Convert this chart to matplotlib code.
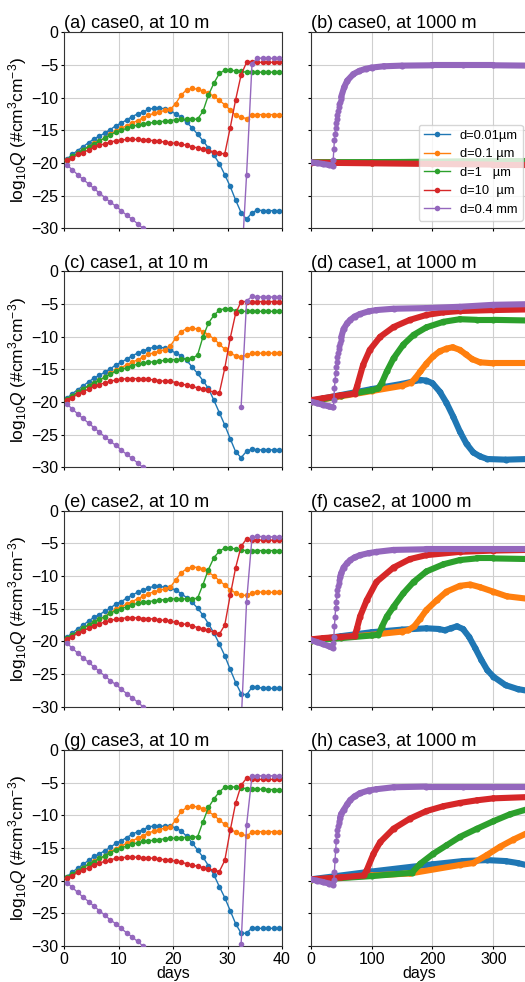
import numpy as np
import matplotlib
matplotlib.use('Agg')
import matplotlib.pyplot as plt
from matplotlib.collections import LineCollection
from matplotlib.lines import Line2D

plt.rcParams['font.family'] = ['Liberation Sans', 'DejaVu Sans']
plt.rcParams['mathtext.fontset'] = 'custom'
plt.rcParams['mathtext.rm'] = 'Liberation Sans'
plt.rcParams['mathtext.it'] = 'Liberation Sans:italic'

nan = np.nan

# ---------------- data ----------------
size_labels = ['d=0.01\u00b5m', 'd=0.1 \u00b5m', 'd=1   \u00b5m', 'd=10  \u00b5m', 'd=0.4 mm']
colors = ['#1f77b4', '#ff7f0e', '#2ca02c', '#d62728', '#9467bd']
case_names = ['case0', 'case1', 'case2', 'case3']
near_letters = ['(a)', '(c)', '(e)', '(g)']
far_letters = ['(b)', '(d)', '(f)', '(h)']

# 10 m: daily values at day 0.5 ... 39.5
days_near = np.arange(0.5, 40.0, 1.0)

# first 19 days (shared by all cases)
early_blue = [-19.4, -18.7, -18.1, -17.5, -16.9, -16.3, -15.9, -15.4, -14.9, -14.3,
              -13.9, -13.4, -12.9, -12.5, -12.2, -11.8, -11.6, -11.6, -11.7]
early_orange = [-19.6, -19.1, -18.5, -18.0, -17.5, -17.0, -16.6, -16.2, -15.6, -15.1,
                -14.7, -14.3, -13.9, -13.5, -13.1, -12.7, -12.4, -12.2, -11.95]
early_green = [-19.5, -19.0, -18.5, -18.0, -17.5, -17.1, -16.6, -16.2, -15.7, -15.3,
               -15.0, -14.7, -14.4, -14.2, -14.0, -13.9, -13.8, -13.7, -13.6]
early_red = [-19.6, -19.3, -18.7, -18.4, -18.0, -17.6, -17.3, -17.05, -16.8, -16.6,
             -16.5, -16.4, -16.4, -16.4, -16.5, -16.5, -16.6, -16.7, -16.8]
early_purple = [-20.3, -21.0, -21.8, -22.5, -23.2, -23.9, -24.6, -25.3, -26.0, -26.6,
                -27.3, -28.0, -28.6, -29.3, -30.0, nan, nan, nan, nan]

# days 19.5 ... 39.5 for each case
late0_blue = [-12.0, -12.5, -13.0, -13.8, -14.6, -15.6, -16.6, -17.7, -18.8, -20.1, -21.8,
              -23.6, -25.7, -27.6, -28.6, -27.6, -27.2, -27.3, -27.3, -27.3, -27.3]
late0_orange = [-11.8, -10.9, -9.6, -8.8, -8.6, -8.7, -9.0, -9.3, -9.8, -10.4, -11.1,
                -11.9, -12.7, -13.0, -13.2, -12.7, -12.6, -12.6, -12.6, -12.6, -12.6]
late0_green = [-13.5, -13.4, -13.3, -13.3, -13.3, -13.3, -12.1, -9.6, -7.8, -6.3, -5.8,
               -5.8, -5.9, -6.0, -6.1, -6.1, -6.1, -6.1, -6.1, -6.1, -6.1]
late0_red = [-16.9, -17.0, -17.1, -17.3, -17.5, -17.7, -17.9, -18.1, -18.3, -18.5, -18.6,
             -14.6, -10.3, -6.5, -4.6, -4.6, -4.6, -4.6, -4.6, -4.6, -4.6]
late0_purple = [nan] * 13 + [-36.6, -21.8, -4.8, -3.9, -4.0, -4.0, -4.0, -4.0]

late1_blue = [-12.0, -12.5, -12.9, -13.6, -14.6, -15.6, -16.7, -17.9, -19.7, -21.6, -23.5,
              -25.6, -27.6, -28.5, -27.5, -27.2, -27.3, -27.3, -27.3, -27.3, -27.3]
late1_orange = [-11.4, -10.2, -9.2, -8.75, -8.6, -8.85, -9.2, -9.7, -10.3, -11.1, -11.9,
                -12.5, -12.9, -13.1, -12.8, -12.5, -12.5, -12.5, -12.5, -12.5, -12.5]
late1_green = [-13.5, -13.5, -13.4, -13.4, -13.3, -12.8, -10.0, -7.9, -6.7, -5.9, -5.7,
               -5.7, -6.0, -6.1, -6.1, -6.1, -6.1, -6.1, -6.1, -6.1, -6.1]
late1_red = [-16.8, -17.0, -17.2, -17.4, -17.6, -17.8, -18.0, -18.2, -18.5, -18.6, -14.8,
             -10.2, -6.4, -4.6, -4.6, -4.6, -4.6, -4.6, -4.6, -4.6, -4.6]
late1_purple = [nan] * 13 + [-20.7, -4.5, -3.8, -3.9, -3.9, -3.9, -3.9, -3.9]

late2_blue = [-11.9, -12.1, -12.7, -13.3, -14.0, -14.9, -16.0, -17.3, -18.7, -20.4, -22.2,
              -24.3, -26.3, -28.0, -28.2, -27.0, -27.0, -27.2, -27.2, -27.2, -27.2]
late2_orange = [-11.7, -10.6, -9.5, -8.9, -8.6, -8.7, -8.9, -9.4, -10.0, -10.7, -11.4,
                -12.1, -12.6, -12.95, -12.95, -12.6, -12.4, -12.5, -12.5, -12.5, -12.5]
late2_green = [-13.5, -13.5, -13.5, -13.5, -13.5, -13.4, -11.3, -9.0, -7.2, -6.2, -5.7,
               -5.7, -5.9, -6.0, -6.1, -6.1, -6.1, -6.1, -6.1, -6.1, -6.1]
late2_red = [-16.9, -17.1, -17.3, -17.4, -17.6, -17.9, -18.1, -18.3, -18.6, -18.9, -17.5,
             -12.95, -8.7, -5.45, -4.3, -4.5, -4.5, -4.5, -4.5, -4.5, -4.5]
late2_purple = [nan] * 13 + [-32.6, -13.9, -4.1, -3.9, -4.0, -4.0, -4.0, -4.0]

late3_blue = [-11.7, -11.9, -12.4, -13.2, -14.2, -15.3, -16.4, -17.7, -19.1, -20.9, -22.6,
              -24.6, -26.6, -28.05, -28.05, -27.2, -27.3, -27.3, -27.3, -27.3, -27.3]
late3_orange = [-11.8, -10.7, -9.4, -8.8, -8.6, -8.7, -9.0, -9.4, -10.0, -10.7, -11.4,
                -12.1, -12.6, -12.9, -13.1, -12.6, -12.5, -12.5, -12.5, -12.5, -12.5]
late3_green = [-13.5, -13.5, -13.4, -13.4, -13.3, -13.3, -11.0, -8.8, -7.5, -6.4, -5.7,
               -5.6, -5.7, -5.8, -5.9, -5.95, -6.0, -6.0, -6.05, -6.05, -6.1]
late3_red = [-16.9, -17.0, -17.2, -17.4, -17.6, -17.8, -18.0, -18.2, -18.4, -18.6, -16.9,
             -12.3, -8.1, -5.4, -4.3, -4.5, -4.5, -4.5, -4.5, -4.5, -4.5]
late3_purple = [nan] * 13 + [-29.7, -11.5, -3.95, -3.95, -3.95, -3.95, -3.95, -3.95]

# 1000 m: (day, log10Q) readings
far0_blue_t = [0, 100, 200, 300, 358]
far0_blue_q = [-19.9, -19.95, -20.0, -20.0, -20.0]
far0_orange_t = [0, 100, 200, 300, 358]
far0_orange_q = [-19.9, -19.95, -20.0, -20.0, -20.0]
far0_green_t = [0, 150, 250, 358]
far0_green_q = [-19.9, -19.85, -19.75, -19.7]
far0_red_t = [0, 100, 200, 300, 358]
far0_red_q = [-19.95, -20.05, -20.15, -20.25, -20.25]
far0_purple_t = [0, 10, 20, 30, 36, 37, 38, 39, 40, 41, 42, 43, 44, 45, 46, 47, 48, 49, 50,
                 55, 60, 70, 80, 90, 100, 120, 150, 200, 250, 300, 358]
far0_purple_q = [-19.9, -20.0, -20.15, -20.3, -20.4, -19.5, -17.8, -16.5, -15.5, -14.6, -13.9,
                 -13.2, -12.6, -12.0, -11.5, -11.0, -10.6, -10.2, -9.9,
                 -8.4, -7.4, -6.4, -5.9, -5.6, -5.4, -5.2, -5.1, -5.05, -5.05, -5.05, -5.1]

far1_blue_t = [0, 50, 100, 150, 180, 190, 200, 212, 223, 234, 245, 256, 267, 278, 290, 320, 358]
far1_blue_q = [-19.8, -18.9, -18.0, -17.2, -16.6, -16.7, -17.1, -18.4, -20.1, -22.2, -24.5,
               -26.4, -27.7, -28.3, -28.7, -28.8, -28.7]
far1_orange_t = [0, 50, 100, 150, 165, 172, 180, 190, 201, 212, 223, 233, 245, 255, 265, 278, 300, 358]
far1_orange_q = [-19.9, -19.1, -18.3, -17.5, -17.0, -16.3, -15.3, -14.1, -13.0, -12.2, -11.8,
                 -11.6, -12.0, -12.7, -13.4, -13.9, -14.05, -14.05]
far1_green_t = [0, 50, 100, 111, 117, 125, 136, 152, 169, 190, 218, 245, 273, 300, 358]
far1_green_q = [-19.9, -19.0, -18.2, -17.9, -17.0, -15.3, -13.3, -11.2, -9.7, -8.55, -7.7,
                -7.3, -7.4, -7.4, -7.5]
far1_red_t = [0, 20, 50, 72, 76, 86, 97, 114, 136, 163, 190, 218, 245, 300, 358]
far1_red_q = [-19.7, -19.4, -18.95, -18.7, -17.6, -14.3, -12.0, -10.0, -8.5, -7.4, -6.65,
              -6.25, -6.05, -5.9, -5.8]
far1_purple_t = [0, 10, 20, 30, 37, 38, 39, 40, 41, 42, 43, 44, 45, 46, 47, 48, 49, 50,
                 54, 60, 65, 72, 81, 95, 108, 136, 190, 245, 300, 358]
far1_purple_q = [-19.9, -20.15, -20.4, -20.65, -20.8, -19.6, -17.9, -16.6, -15.5, -14.6, -13.8,
                 -13.1, -12.5, -11.9, -11.4, -10.9, -10.5, -10.1,
                 -8.8, -7.9, -7.4, -6.9, -6.5, -6.1, -5.9, -5.7, -5.6, -5.4, -5.1, -5.0]

far2_blue_t = [0, 50, 100, 150, 190, 210, 220, 230, 240, 250, 260, 270, 280, 290, 300, 320, 340, 358]
far2_blue_q = [-19.9, -19.2, -18.6, -18.2, -18.0, -18.1, -18.3, -18.0, -17.7, -18.1, -19.3,
               -21.0, -22.8, -24.4, -25.4, -26.7, -27.3, -27.6]
far2_orange_t = [0, 50, 100, 150, 160, 170, 180, 190, 207, 223, 245, 262, 278, 300, 322, 358]
far2_orange_q = [-19.9, -19.4, -19.0, -18.5, -18.3, -17.7, -16.5, -15.2, -13.7, -12.4, -11.5,
                 -11.3, -11.7, -12.4, -13.1, -13.5]
far2_green_t = [0, 50, 100, 111, 117, 125, 136, 152, 169, 190, 218, 245, 273, 300, 358]
far2_green_q = [-19.9, -19.5, -19.1, -19.0, -17.75, -16.2, -14.7, -12.65, -10.9, -9.3, -8.2,
                -7.55, -7.3, -7.3, -7.4]
far2_red_t = [0, 20, 50, 72, 76, 81, 92, 108, 136, 163, 190, 245, 300, 358]
far2_red_q = [-19.7, -19.5, -19.3, -19.2, -18.0, -16.2, -13.7, -10.9, -8.7, -7.4, -6.8,
              -6.3, -6.1, -6.0]
far2_purple_t = [0, 10, 20, 30, 36, 37, 38, 39, 40, 41, 42, 43, 44, 45, 46, 47, 48, 50,
                 54, 60, 65, 72, 81, 95, 108, 136, 190, 250, 300, 358]
far2_purple_q = [-19.8, -20.1, -20.4, -20.75, -21.0, -20.3, -19.3, -17.7, -16.2, -14.9, -13.9,
                 -12.9, -12.1, -11.5, -11.0, -10.6, -10.2, -9.6,
                 -8.7, -8.0, -7.55, -7.15, -6.8, -6.5, -6.3, -6.0, -5.9, -5.9, -5.9, -5.9]

far3_blue_t = [0, 100, 200, 250, 290, 320, 340, 358]
far3_blue_q = [-19.8, -18.6, -17.5, -17.0, -16.85, -17.0, -17.3, -17.7]
far3_orange_t = [0, 100, 163, 245, 267, 289, 311, 333, 358]
far3_orange_q = [-19.9, -19.2, -18.9, -17.6, -17.3, -16.1, -14.8, -13.7, -12.6]
far3_green_t = [0, 100, 166, 180, 201, 223, 245, 273, 300, 327, 358]
far3_green_q = [-19.9, -19.3, -18.8, -17.4, -15.9, -14.6, -13.3, -12.05, -10.9, -9.85, -9.0]
far3_red_t = [0, 50, 87, 92, 103, 114, 136, 163, 190, 218, 245, 273, 300, 358]
far3_red_q = [-19.8, -19.5, -19.2, -18.4, -15.9, -14.1, -12.05, -10.5, -9.35, -8.6, -8.1,
              -7.7, -7.4, -7.2]
far3_purple_t = [0, 10, 20, 30, 37, 38, 39, 40, 41, 42, 43, 44, 45, 46, 47, 48, 50,
                 54, 60, 65, 72, 81, 95, 108, 136, 190, 250, 300, 358]
far3_purple_q = [-19.8, -20.0, -20.2, -20.45, -20.6, -19.9, -18.6, -16.8, -15.3, -14.0, -13.0,
                 -12.3, -11.7, -11.2, -10.8, -10.4, -9.8,
                 -9.2, -8.3, -7.65, -7.1, -6.6, -6.2, -6.0, -5.7, -5.6, -5.6, -5.6, -5.6]

# ---------------- assemble ----------------
early = [early_blue, early_orange, early_green, early_red, early_purple]
late = [
    [late0_blue, late0_orange, late0_green, late0_red, late0_purple],
    [late1_blue, late1_orange, late1_green, late1_red, late1_purple],
    [late2_blue, late2_orange, late2_green, late2_red, late2_purple],
    [late3_blue, late3_orange, late3_green, late3_red, late3_purple],
]
near = [[np.array(early[k] + late[c][k], float) for k in range(5)] for c in range(4)]
far = [
    [(far0_blue_t, far0_blue_q), (far0_orange_t, far0_orange_q), (far0_green_t, far0_green_q),
     (far0_red_t, far0_red_q), (far0_purple_t, far0_purple_q)],
    [(far1_blue_t, far1_blue_q), (far1_orange_t, far1_orange_q), (far1_green_t, far1_green_q),
     (far1_red_t, far1_red_q), (far1_purple_t, far1_purple_q)],
    [(far2_blue_t, far2_blue_q), (far2_orange_t, far2_orange_q), (far2_green_t, far2_green_q),
     (far2_red_t, far2_red_q), (far2_purple_t, far2_purple_q)],
    [(far3_blue_t, far3_blue_q), (far3_orange_t, far3_orange_q), (far3_green_t, far3_green_q),
     (far3_red_t, far3_red_q), (far3_purple_t, far3_purple_q)],
]

# ---------------- figure ----------------
W, H = 525, 982
fig = plt.figure(figsize=(W / 100, H / 100), dpi=100)

ax_w = 218 / W
ax_h = 196 / H
tops = [32.3, 271.5, 510.7, 750.0]
left_x = 64 / W
right_x = 310.7 / W

MS = 4.0
TICK_FS = 11.5
TITLE_FS = 13


def style_axes(ax, xlim, xticks, show_xlabels, show_ylabels):
    ax.set_xlim(*xlim)
    ax.set_ylim(-30, 0)
    ax.set_xticks(xticks)
    ax.set_yticks([0, -5, -10, -15, -20, -25, -30])
    ax.grid(True, color='#cfcfcf', lw=0.8)
    ax.set_axisbelow(True)
    ax.tick_params(direction='out', length=2.5, width=0.8, labelsize=TICK_FS, pad=1.5,
                   labelbottom=show_xlabels, labelleft=show_ylabels)
    for s in ax.spines.values():
        s.set_linewidth(0.8)
        s.set_color('#333333')


def band(ax, t, q, color, z):
    t = np.asarray(t, float)
    q = np.asarray(q, float)
    pts = np.column_stack([t, q])
    segs = np.stack([pts[:-1], pts[1:]], axis=1)
    widths = np.where(np.diff(t) > 1.5, 4.4, 1.0)
    lc = LineCollection(segs, linewidths=widths, colors=color, capstyle='round', zorder=z)
    ax.add_collection(lc)
    ax.plot(t, q, 'o', ms=4.4, mew=0, color=color, zorder=z)


for r in range(4):
    bottom = 1 - (tops[r] + 196) / H
    axl = fig.add_axes([left_x, bottom, ax_w, ax_h])
    axr = fig.add_axes([right_x, bottom, ax_w, ax_h])
    last = (r == 3)
    style_axes(axl, (0, 40), [0, 10, 20, 30, 40], last, True)
    style_axes(axr, (0, 358), [0, 100, 200, 300], last, False)

    for k in range(5):
        axl.plot(days_near, near[r][k], '-o', color=colors[k], lw=1.0, ms=MS, mew=0,
                 zorder=2 + k, clip_on=True)
        t, q = far[r][k]
        band(axr, t, q, colors[k], 2 + k)

    axl.set_title(f'{near_letters[r]} {case_names[r]}, at 10 m', loc='left',
                  fontsize=TITLE_FS, pad=2)
    axr.set_title(f'{far_letters[r]} {case_names[r]}, at 1000 m', loc='left',
                  fontsize=TITLE_FS, pad=2)
    axl.set_ylabel(r'log$_{10}$$Q$ (#cm$^3$cm$^{-3}$)', fontsize=12.5, labelpad=1.5)
    if last:
        axl.set_xlabel('days', fontsize=11.5, labelpad=-0.5)
        axr.set_xlabel('days', fontsize=11.5, labelpad=-0.5)

    if r == 0:
        handles = [Line2D([], [], color=colors[k], lw=1.0, marker='o', ms=MS, mew=0)
                   for k in range(5)]
        axr.legend(handles, size_labels, loc='lower right', fontsize=9.3,
                   bbox_to_anchor=(523 / W, 1 - 221 / H), bbox_transform=fig.transFigure,
                   borderaxespad=0, framealpha=0.8, edgecolor='#cccccc')

fig.savefig('out.png', dpi=100)
